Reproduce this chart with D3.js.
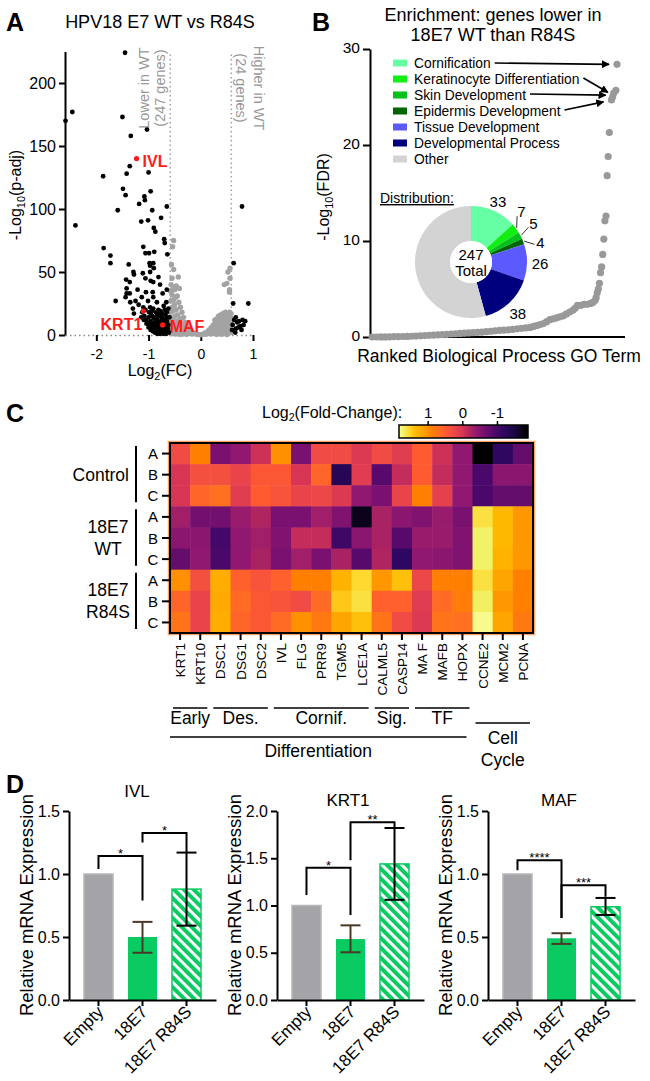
<!DOCTYPE html>
<html><head><meta charset="utf-8">
<script src="https://cdn.jsdelivr.net/npm/d3@7"></script>
<style>body{margin:0;background:#fff} svg text{font-family:"Liberation Sans",Arial,Helvetica,sans-serif}</style>
</head><body><svg id="fig" width="650" height="1081"></svg>
<script>
// ================= DATA =================
// Panel A: volcano (log2FC, -log10 p-adj)
const volcanoDown = [[-2.59,170],[-2.46,177],[-2.40,87],[-1.45,224],[-1.50,173],[-1.34,158],[-1.03,163],[-1.87,126],[-1.36,134],[-1.42,128],[-1.00,129],[-1.49,116],[-1.44,111],[-0.96,114],[-1.08,110],[-1.07,107],[-1.18,104],[-0.65,102],[-1.59,99],[-0.93,99],[-1.14,90],[-1.01,91],[-0.76,93],[-0.90,85],[-0.87,82],[-1.86,69],[-1.73,63],[-1.73,57],[-1.10,70],[-1.06,65],[-0.99,65],[-0.89,66],[-0.70,76],[-0.69,73],[-0.64,64],[-0.98,57],[-0.97,55],[-0.91,57],[-1.38,56],[-1.29,50],[-1.28,48],[-1.11,49],[-0.97,50],[-0.90,53],[-0.81,46],[-1.43,44],[-1.36,42],[-1.06,45],[-0.96,43],[-1.63,27],[-1.42,37],[-1.36,33],[-1.21,36],[-0.91,42],[-0.78,40],[-1.44,30],[-1.35,26],[-1.25,27],[-1.05,34],[-0.65,36],[-1.13,30],[-1.01,27],[-0.92,34],[-1.30,21],[-1.19,24],[-0.91,30],[-0.84,26],[-0.73,33],[-0.66,26],[-1.28,17],[-1.42,33],
[-1.12,18],[-1.08,15],[-1.05,12],[-1.02,10],[-1.0,14],[-0.98,8],[-0.96,11],[-0.95,16],[-0.93,6],[-0.92,9],[-0.9,13],[-0.89,4],[-0.88,7],[-0.87,10],[-0.86,18],[-0.85,5],[-0.84,8],[-0.83,12],[-0.82,3],[-0.81,6],[-0.8,9],[-0.79,15],[-0.78,4],[-0.77,7],[-0.76,11],[-0.75,2],[-0.74,5],[-0.73,13],[-0.72,3],[-0.71,6],[-0.7,9],[-0.69,20],[-0.68,2],[-0.67,4],[-0.66,7],[-0.65,11],[-0.64,3],[-0.63,5],[-0.62,8],[-0.61,2],[-0.6,14],[-1.1,22],[-1.06,20],[-0.97,22],[-0.94,19],[-0.91,21],[-0.84,17],[-0.81,20],[-0.77,19],[-0.74,17],[-0.71,23],[-0.68,16],[-0.65,18],[-0.62,21],[-1.04,9],[-1.0,6],[-0.96,4],[-0.92,3],[-0.88,2],[-0.83,1],[-0.78,1],[-0.72,1],[-0.66,1],[-1.09,12],[-1.14,14],[-0.99,18],[-0.93,15],[-0.87,14],[-0.82,16],[-0.75,14],[-0.7,12],[-0.64,14]];
const volcanoUp = [[0.79,102],[0.63,57],[0.91,25],[0.62,25],[0.67,14],[0.73,11],[0.82,8],[0.61,8],[0.67,5],[0.76,7],[0.85,11],[0.60,4],[0.78,4],[0.70,10],[0.64,12],[0.72,6],[0.80,12],[0.66,2]];
const volcanoNS = [[-0.52,75],[-0.54,70],[-0.56,56],[-0.52,52],[-0.55,45],[-0.43,46],[-0.57,40],[-0.47,39],[-0.41,37],[-0.53,38],[-0.5,36],[-0.58,35],[-0.55,32],[-0.45,31],[-0.48,30],[-0.52,28],[-0.57,27],[-0.42,26],[-0.5,24],[-0.55,22],[-0.39,22],[-0.47,20],[-0.53,19],[-0.58,18],[-0.36,18],[-0.44,16],[-0.49,15],[-0.54,14],[-0.33,14],[-0.59,12],[-0.38,13],[-0.41,12],[-0.46,11],[-0.51,11],[-0.56,10],[-0.30,10],[-0.35,9],[-0.43,8],[-0.48,8],[-0.53,7],[-0.58,6],[-0.27,8],[-0.32,7],[-0.39,6],[-0.44,5],[-0.49,5],[-0.54,4],[-0.59,3],[-0.24,6],[-0.29,5],[-0.36,4],[-0.41,3],[-0.46,2],[-0.51,2],[-0.56,1],[-0.21,4],[-0.26,3],[-0.33,2],[-0.38,1.5],[-0.43,1],[-0.48,0.8],[-0.18,3],[-0.23,2],[-0.3,1],[-0.35,0.8],[-0.4,0.5],[-0.15,2],[-0.2,1.2],[-0.27,0.6],[-0.12,1.2],[-0.17,0.7],[-0.09,0.8],[-0.06,0.5],[-0.03,0.3],[0.0,0.2],
[0.02,0.3],[0.05,0.8],[0.08,1.5],[0.1,0.5],[0.12,2.5],[0.14,1.2],[0.16,4],[0.18,2],[0.2,6],[0.2,0.8],[0.22,3.5],[0.24,8],[0.25,1.5],[0.26,5],[0.28,10],[0.29,2.5],[0.3,7],[0.31,13],[0.32,4],[0.33,1],[0.34,15],[0.35,9],[0.36,6],[0.37,2],[0.38,16],[0.39,12],[0.4,3.5],[0.41,8],[0.42,17],[0.43,14],[0.44,1.5],[0.45,11],[0.45,5],[0.46,16],[0.47,18],[0.48,9],[0.49,3],[0.5,13],[0.5,7],[0.51,17],[0.52,1],[0.53,15],[0.53,11],[0.54,5],[0.55,18],[0.56,8],[0.57,14],[0.58,2],[0.58,17],[0.59,10],[0.45,40],[0.5,41],[0.52,50],[0.55,34],[0.56,45],[0.56,53],[0.55,36],[0.3,0.5],[0.4,0.5],[0.5,0.4],[0.27,12],[0.33,9],[0.37,14],[0.44,9],[0.48,14],[0.52,8],[0.41,13],[0.35,11]];
const labeledGenes = ["IVL","KRT1","MAF"];
const labeledLfc = [-1.23,-1.10,-0.73];
const labeledP = [140,19,8];
const volcanoXTicks = [-2,-1,0,1];
const volcanoYTicks = [0,50,100,150,200];

// Panel B: ranked GO terms
const goRank = [1,5,9,13,17,21,25,29,33,37,41,45,49,53,57,61,65,69,73,77,81,85,89,93,97,101,105,109,113,117,121,125,129,133,137,141,145,148,151,154,157,160,163,166,169,172,175,178,181,184,186,188,191,194,197,200,202,204,205,206,207,208,209,210,211,212,213,214,215,216,217,219,220,221,223,224];
const goFDR = [0,0,0.01,0.01,0.02,0.03,0.04,0.05,0.06,0.08,0.1,0.12,0.15,0.17,0.2,0.22,0.25,0.28,0.31,0.34,0.37,0.4,0.42,0.45,0.48,0.5,0.55,0.6,0.65,0.7,0.72,0.75,0.8,0.85,0.9,0.95,1.0,1.1,1.2,1.3,1.4,1.6,1.8,1.9,2.0,2.1,2.2,2.4,2.6,2.8,3.0,3.3,3.3,3.4,3.4,3.5,3.6,3.8,4.1,4.6,5.0,5.6,6.7,7.3,8.6,10.2,12.1,12.6,16.8,18.8,21.3,24.7,25.0,25.4,25.7,28.4];
const goCategories = ["Cornification","Keratinocyte Differentiation","Skin Development","Epidermis Development","Tissue Development","Developmental Process","Other"];
const goCounts = [33,7,5,4,26,38,134];
const goArrowTargets = [224,223,221,219];
const goTicks = [0,10,20,30];

// Panel C: heatmap
const genes = ["KRT1","KRT10","DSC1","DSG1","DSC2","IVL","FLG","PRR9","TGM5","LCE1A","CALML5","CASP14","MA F","MAFB","HOPX","CCNE2","MCM2","PCNA"];
const sampleGroups = ["Control","18E7 WT","18E7 R84S"];
const replicates = ["A","B","C"];
const heatValues = [
 [0.3,0.9,-0.6,-0.4,-0.05,1.0,-0.6,0.3,0.3,0.05,0.3,0.1,0.5,-0.05,-0.4,-1.85,-1.2,-0.75],
 [0.0,0.35,0.35,0.2,0.45,0.45,0.0,0.6,-1.3,0.1,-0.85,-0.1,0.5,-0.1,-0.4,-0.95,-0.45,-0.45],
 [0.0,0.6,0.7,0.1,0.5,0.4,0.2,0.25,0.05,-0.4,-0.6,0.2,0.9,0.15,-0.4,-0.95,-0.75,-0.75],
 [-0.3,-0.65,-0.65,-0.35,-0.2,-0.6,-0.6,-0.3,-0.55,-1.7,-0.25,-0.45,-0.55,-0.35,-0.6,1.6,1.35,1.05],
 [-0.45,-0.45,-1.0,-0.4,-0.3,-0.55,-0.1,-0.1,-1.05,-0.45,-0.25,-0.85,-0.35,-0.35,-0.55,1.72,1.35,1.05],
 [-0.75,-0.4,-0.95,-0.4,-0.25,-0.6,-0.3,-0.6,-0.25,-0.85,-0.2,-1.2,-0.4,-0.45,-0.55,1.72,1.3,1.05],
 [1.0,0.35,1.25,0.55,0.4,0.55,0.9,0.9,1.3,1.55,1.05,1.4,0.25,0.9,0.9,1.6,1.15,0.9],
 [0.6,0.2,1.2,0.65,0.45,0.4,0.3,0.65,1.45,1.6,0.55,0.55,0.1,0.65,0.85,1.7,1.05,0.9],
 [0.75,0.2,1.25,0.6,0.45,0.65,1.0,0.8,1.15,1.4,0.75,0.3,0.05,0.75,0.7,1.8,1.15,0.8]
];
const geneGroupNames = ["Early","Des.","Cornif.","Sig.","TF"];
const geneGroupFirst = ["KRT1","DSC1","IVL","CALML5","MA F"];
const geneGroupLast = ["KRT10","DSC2","LCE1A","CASP14","HOPX"];
const colorbarTicks = [1,0,-1];

// Panel D: qPCR
const qpcrCats = ["Empty","18E7","18E7 R84S"];
const ivlMean = [1.0,0.50,0.88], ivlLow = [null,0.375,0.59], ivlHigh = [null,0.62,1.17];
const krt1Mean = [1.0,0.645,1.44], krt1Low = [null,0.505,1.06], krt1High = [null,0.79,1.82];
const mafMean = [1.0,0.49,0.74], mafLow = [null,0.445,0.675], mafHigh = [null,0.53,0.81];
const ivlSig = [["Empty","18E7",1.143,1.04,0.79,"*"],["18E7","18E7 R84S",1.325,1.25,1.17,"*"]];
const krt1Sig = [["Empty","18E7",1.40,1.11,0.90,"*"],["18E7","18E7 R84S",1.88,1.48,1.82,"**"]];
const mafSig = [["Empty","18E7",1.11,1.03,0.65,"****"],["18E7","18E7 R84S",0.91,0.65,0.82,"***"]];

// ================= DRAWING =================
const FONT = '"Liberation Sans",Arial,Helvetica,sans-serif';
const svg = d3.select("#fig");
const defs = svg.append("defs");

function txt(sel, x, y, s, o = {}) {
  const t = sel.append("text").attr("x", x).attr("y", y).text(s)
    .attr("font-size", o.size || 14).attr("fill", o.fill || "#000")
    .attr("text-anchor", o.anchor || "start");
  if (o.weight) t.attr("font-weight", o.weight);
  if (o.rotate !== undefined) t.attr("transform", `rotate(${o.rotate},${x},${y})`);
  return t;
}
function subText(sel, x, y, parts, o = {}) {
  const sz = o.size || 15;
  const t = sel.append("text").attr("x", x).attr("y", y)
    .attr("font-size", sz).attr("text-anchor", o.anchor || "middle").attr("fill", "#000");
  if (o.rotate !== undefined) t.attr("transform", `rotate(${o.rotate},${x},${y})`);
  t.append("tspan").text(parts[0]);
  t.append("tspan").text(parts[1]).attr("font-size", sz * 0.68).attr("dy", sz * 0.27);
  t.append("tspan").text(parts[2]).attr("dy", -sz * 0.27);
  return t;
}
function styleAxis(g, size) {
  g.attr("font-family", FONT).attr("font-size", size);
  g.selectAll("path.domain, .tick line").attr("stroke", "#000").attr("stroke-width", 2);
  g.selectAll("text").attr("fill", "#000");
}

// panel letters
txt(svg, 6, 31, "A", {size: 25, weight: "bold"});
txt(svg, 312, 31, "B", {size: 25, weight: "bold"});
txt(svg, 6, 422, "C", {size: 25, weight: "bold"});
txt(svg, 6, 793, "D", {size: 25, weight: "bold"});

// ---------- Panel A ----------
(function () {
  const g = svg.append("g");
  const x = d3.scaleLinear().domain([-2.6, 1.0]).range([65, 253]);
  const y = d3.scaleLinear().domain([0, 225]).range([335, 51.5]);
  txt(g, 160, 28, "HPV18 E7 WT vs R84S", {size: 18, anchor: "middle"});
  [-0.585, 0.585].forEach(v => g.append("line")
    .attr("x1", x(v)).attr("x2", x(v)).attr("y1", y(0)).attr("y2", y(225))
    .attr("stroke", "#a0a0a0").attr("stroke-width", 1.5).attr("stroke-dasharray", "1.5,3"));
  const gc = "#999";
  txt(g, 149, 88, "Lower in WT", {size: 14.5, fill: gc, anchor: "middle", rotate: -90});
  txt(g, 165, 88, "(247 genes)", {size: 14.5, fill: gc, anchor: "middle", rotate: -90});
  txt(g, 254, 88, "Higher in WT", {size: 14.5, fill: gc, anchor: "middle", rotate: 90});
  txt(g, 236, 88, "(24 genes)", {size: 14.5, fill: gc, anchor: "middle", rotate: 90});

  const ya = g.append("g").attr("transform", "translate(65,0)")
    .call(d3.axisLeft(y).tickValues(volcanoYTicks).tickSize(6).tickSizeOuter(0).tickFormat(d => String(d)));
  styleAxis(ya, 16);
  const xa = g.append("g").attr("transform", `translate(0,${y(0)})`)
    .call(d3.axisBottom(x).tickValues(volcanoXTicks).tickSize(6).tickSizeOuter(0).tickFormat(d => String(d)));
  styleAxis(xa, 14);
  xa.select("path.domain").attr("stroke", "#888").attr("stroke-width", 1.5).attr("stroke-dasharray", "1.5,3");
  xa.selectAll(".tick text").attr("dy", "1.1em");

  g.selectAll("circle.ns").data(volcanoNS).join("circle").attr("class", "ns")
    .attr("cx", d => x(d[0])).attr("cy", d => y(d[1])).attr("r", 2.7).attr("fill", "#a3a3a3");
  g.selectAll("circle.sig").data(volcanoDown.concat(volcanoUp)).join("circle").attr("class", "sig")
    .attr("cx", d => x(d[0])).attr("cy", d => y(d[1])).attr("r", 2.4).attr("fill", "#000");
  labeledGenes.forEach((gene, i) => {
    const cx = x(labeledLfc[i]), cy = y(labeledP[i]);
    g.append("circle").attr("cx", cx).attr("cy", cy).attr("r", 2.6).attr("fill", "#ff1a1a");
    if (gene === "IVL") txt(g, cx + 6, cy + 8, gene, {size: 16, weight: "bold", fill: "#ff1a1a"});
    if (gene === "KRT1") txt(g, cx - 1, cy + 19, gene, {size: 16, weight: "bold", fill: "#ff1a1a", anchor: "end"});
    if (gene === "MAF") txt(g, cx + 7, cy + 7, gene, {size: 16, weight: "bold", fill: "#ff1a1a"});
  });
  subText(g, 21, 195, ["-Log", "10", "(p-adj)"], {size: 16, rotate: -90});
  subText(g, 160, 376, ["Log", "2", "(FC)"], {size: 16});
})();

// ---------- Panel B ----------
(function () {
  const g = svg.append("g");
  const x = d3.scaleLinear().domain([1, 224]).range([372, 617]);
  const y = d3.scaleLinear().domain([0, 30]).range([337, 49]);
  txt(g, 493, 21, "Enrichment: genes lower in", {size: 18, anchor: "middle"});
  txt(g, 493, 41, "18E7 WT than R84S", {size: 18, anchor: "middle"});
  const ya = g.append("g").attr("transform", "translate(370,0)")
    .call(d3.axisLeft(y).tickValues(goTicks).tickSize(7).tickSizeOuter(0));
  styleAxis(ya, 15.5);
  ya.selectAll(".tick text").attr("dy", "0.25em");
  g.append("line").attr("x1", 369).attr("x2", 625).attr("y1", y(0)).attr("y2", y(0))
    .attr("stroke", "#000").attr("stroke-width", 2);
  subText(g, 329, 197, ["-Log", "10", "(FDR)"], {size: 16, rotate: -90});
  txt(g, 499, 362, "Ranked Biological Process GO Term", {size: 17.5, anchor: "middle"});

  g.selectAll("circle.go").data(goRank).join("circle").attr("class", "go")
    .attr("cx", d => x(d)).attr("cy", (d, i) => y(goFDR[i])).attr("r", 3.6).attr("fill", "#999");

  const colors = ["#66ffa3", "#11ee11", "#00c21a", "#006400", "#5a5aff", "#00007f", "#d3d3d3"];
  const legY = d3.scalePoint().domain(goCategories).range([63, 159]);
  defs.append("marker").attr("id", "arr").attr("viewBox", "0 0 10 10").attr("refX", 9).attr("refY", 5)
    .attr("markerWidth", 5).attr("markerHeight", 5).attr("orient", "auto")
    .append("path").attr("d", "M0,0L10,5L0,10z").attr("fill", "#000");
  goCategories.forEach((c, i) => {
    g.append("rect").attr("x", 393).attr("y", legY(c) - 3.5).attr("width", 14).attr("height", 7).attr("fill", colors[i]);
    const t = txt(g, 414, legY(c) + 5, c, {size: 13.8});
    if (i < 4) {
      const L = t.node().getComputedTextLength();
      const tr = goArrowTargets[i];
      const ti = goRank.indexOf(tr);
      g.append("line").attr("x1", 414 + L + 4).attr("y1", legY(c) + (i === 0 ? 0 : -1))
        .attr("x2", x(tr) - 8).attr("y2", y(goFDR[ti]) + (i === 0 ? 0 : 2))
        .attr("stroke", "#000").attr("stroke-width", 1.6).attr("marker-end", "url(#arr)");
    }
  });

  const cx = 471, cy = 262;
  const pg = g.append("g").attr("transform", `translate(${cx},${cy})`);
  const arcs = d3.pie().sort(null).value(d => d)(goCounts);
  const arc = d3.arc().innerRadius(21).outerRadius(56);
  pg.selectAll("path").data(arcs).join("path").attr("d", arc).attr("fill", (d, i) => colors[i]);
  pg.append("circle").attr("r", 21).attr("fill", "#fff");
  txt(pg, 0, -2, "247", {size: 15, anchor: "middle"});
  txt(pg, 0, 14, "Total", {size: 15, anchor: "middle"});
  const adj = [0, -8, -3, 6, 1, 1], rad = [66, 71, 73, 72, 69, 70];
  arcs.forEach((a, i) => {
    if (i > 5) return;
    const mid = (a.startAngle + a.endAngle) / 2, la = mid + adj[i] * Math.PI / 180;
    const lx = rad[i] * Math.sin(la), ly = -rad[i] * Math.cos(la);
    txt(pg, lx, ly + 5, String(goCounts[i]), {size: 15, anchor: "middle"});
    if (i >= 1 && i <= 3) {
      pg.append("line").attr("x1", 57 * Math.sin(mid)).attr("y1", -57 * Math.cos(mid))
        .attr("x2", (rad[i] - 6) * Math.sin(la)).attr("y2", -(rad[i] - 6) * Math.cos(la))
        .attr("stroke", "#000").attr("stroke-width", 0.8);
    }
  });
  txt(g, 380, 203, "Distribution:", {size: 14}).attr("text-decoration", "underline");
})();

// ---------- Panel C ----------
(function () {
  const g = svg.append("g");
  const x = d3.scaleBand().domain(genes).range([170, 533]);
  const rows = [];
  sampleGroups.forEach(s => replicates.forEach(r => rows.push(s + "|" + r)));
  const y = d3.scaleBand().domain(rows).range([443, 633]);
  const stops = [-1.85,-1.5,-1.2,-0.95,-0.6,-0.4,-0.2,0.0,0.3,0.5,0.7,0.9,1.1,1.35,1.55,1.7,1.85];
  const cols = ["#000000","#1a0840","#2e0760","#4a086a","#7a1070","#901870","#b02560","#d83555","#f04c45","#ff5a30","#ff7020","#ff8000","#ffa000","#ffb800","#ffd830","#f0f060","#fcffa4"];
  const color = d3.scaleLinear().domain(stops).range(cols).clamp(true);

  const cells = [];
  heatValues.forEach((row, ri) => row.forEach((v, ci) => cells.push({r: rows[ri], c: genes[ci], v})));
  g.append("rect").attr("x", 168.5).attr("y", 441.5).attr("width", 366).attr("height", 193)
    .attr("fill", "none").attr("stroke", "#f6a36a").attr("stroke-width", 1.5);
  g.selectAll("rect.cell").data(cells).join("rect").attr("class", "cell")
    .attr("x", d => x(d.c)).attr("y", d => y(d.r)).attr("width", x.bandwidth() + 0.5).attr("height", y.bandwidth() + 0.5)
    .attr("fill", d => color(d.v));
  g.append("rect").attr("x", 170).attr("y", 443).attr("width", 363).attr("height", 190)
    .attr("fill", "none").attr("stroke", "#000").attr("stroke-width", 2);

  rows.forEach(r => {
    const cy = y(r) + y.bandwidth() / 2;
    g.append("line").attr("x1", 162).attr("x2", 170).attr("y1", cy).attr("y2", cy).attr("stroke", "#000").attr("stroke-width", 2);
    txt(g, 153, cy + 5.5, r.split("|")[1], {size: 15, anchor: "middle"});
  });
  sampleGroups.forEach((s, i) => {
    const y0 = y(s + "|A"), y1 = y(s + "|C") + y.bandwidth();
    g.append("line").attr("x1", 136).attr("x2", 136).attr("y1", y0 + 3).attr("y2", y1 - 4)
      .attr("stroke", "#000").attr("stroke-width", 2);
    const mid = (y0 + y1) / 2;
    if (i === 0) txt(g, 129, mid + 6, "Control", {size: 17.5, anchor: "end"});
    else {
      const parts = s.split(" ");
      txt(g, 108, mid - 5, parts[0], {size: 17.5, anchor: "middle"});
      txt(g, 108, mid + 17, parts[1], {size: 17.5, anchor: "middle"});
    }
  });
  genes.forEach(gn => {
    const cx = x(gn) + x.bandwidth() / 2;
    g.append("line").attr("x1", cx).attr("x2", cx).attr("y1", 633).attr("y2", 640).attr("stroke", "#000").attr("stroke-width", 2);
    txt(g, cx + 5, 643, gn, {size: 13.5, anchor: "end", rotate: -90});
  });
  geneGroupNames.forEach((n, i) => {
    const x0 = x(geneGroupFirst[i]) + 3, x1 = x(geneGroupLast[i]) + x.bandwidth() - 3;
    g.append("line").attr("x1", x0).attr("x2", x1).attr("y1", 708).attr("y2", 708).attr("stroke", "#000").attr("stroke-width", 1.5);
    txt(g, (x0 + x1) / 2, 724, n, {size: 17.5, anchor: "middle"});
  });
  const dx0 = x("KRT1"), dx1 = x("HOPX") + x.bandwidth() - 6;
  g.append("line").attr("x1", dx0).attr("x2", dx1).attr("y1", 737).attr("y2", 737).attr("stroke", "#000").attr("stroke-width", 1.5);
  txt(g, (dx0 + dx1) / 2, 757, "Differentiation", {size: 17.5, anchor: "middle"});
  const cc0 = x("CCNE2") + 3, cc1 = x("PCNA") + x.bandwidth() - 3;
  g.append("line").attr("x1", cc0).attr("x2", cc1).attr("y1", 723).attr("y2", 723).attr("stroke", "#000").attr("stroke-width", 1.5);
  txt(g, (cc0 + cc1) / 2, 744, "Cell", {size: 17.5, anchor: "middle"});
  txt(g, (cc0 + cc1) / 2, 766, "Cycle", {size: 17.5, anchor: "middle"});

  const cb = d3.scaleLinear().domain([1.84, -1.88]).range([399, 528]);
  const grad = defs.append("linearGradient").attr("id", "cbgrad").attr("x1", "0%").attr("x2", "100%");
  d3.range(0, 41).forEach(k => {
    const v = 1.84 + (-1.88 - 1.84) * k / 40;
    grad.append("stop").attr("offset", (k / 40 * 100) + "%").attr("stop-color", color(v));
  });
  g.append("rect").attr("x", 399).attr("y", 425).attr("width", 129).attr("height", 13)
    .attr("fill", "url(#cbgrad)").attr("stroke", "#000").attr("stroke-width", 1.5);
  colorbarTicks.forEach(t => {
    g.append("line").attr("x1", cb(t)).attr("x2", cb(t)).attr("y1", 425).attr("y2", 421).attr("stroke", "#000").attr("stroke-width", 1.5);
    txt(g, cb(t), 418, String(t), {size: 15, anchor: "middle"});
  });
  const lt = g.append("text").attr("x", 262).attr("y", 418).attr("font-size", 16);
  lt.append("tspan").text("Log");
  lt.append("tspan").text("2").attr("font-size", 10.5).attr("dy", 3);
  lt.append("tspan").text("(Fold-Change):").attr("dy", -3);
})();

// ---------- Panel D ----------
defs.append("pattern").attr("id", "hatch").attr("patternUnits", "userSpaceOnUse")
  .attr("width", 7).attr("height", 7).attr("patternTransform", "rotate(-45)")
  .call(p => {
    p.append("rect").attr("width", 7).attr("height", 7).attr("fill", "#0acb62");
    p.append("rect").attr("width", 3).attr("height", 7).attr("fill", "#fff");
  });
function barPanel(o) {
  const g = svg.append("g");
  const x = d3.scaleBand().domain(qpcrCats).range([o.x0, o.x0 + 147]).padding(0.34);
  const y = d3.scaleLinear().domain([0, o.ymax]).range([1000, 811]);
  const fills = ["#a3a3a8", "#0acb62", "url(#hatch)"];
  g.selectAll("rect.bar").data(qpcrCats).join("rect").attr("class", "bar")
    .attr("x", d => x(d)).attr("width", x.bandwidth())
    .attr("y", (d, i) => y(o.mean[i])).attr("height", (d, i) => y(0) - y(o.mean[i]))
    .attr("fill", (d, i) => fills[i])
    .attr("stroke", (d, i) => i === 2 ? "#0acb62" : (i === 0 ? "#b8b8bc" : "none")).attr("stroke-width", 1.5);
  qpcrCats.forEach((c, i) => {
    if (o.low[i] === null) return;
    const cx = x(c) + x.bandwidth() / 2, col = i === 1 ? "#4a3828" : "#000";
    g.append("line").attr("x1", cx).attr("x2", cx).attr("y1", y(o.low[i])).attr("y2", y(o.high[i])).attr("stroke", col).attr("stroke-width", 2);
    [o.low[i], o.high[i]].forEach(v => g.append("line").attr("x1", cx - 10).attr("x2", cx + 10)
      .attr("y1", y(v)).attr("y2", y(v)).attr("stroke", col).attr("stroke-width", 2));
  });
  o.sig.forEach(s => {
    const xa = x(s[0]) + x.bandwidth() / 2, xb = x(s[1]) + x.bandwidth() / 2;
    g.append("path").attr("d", `M${xa},${y(s[3])}V${y(s[2])}H${xb}V${y(s[4])}`)
      .attr("fill", "none").attr("stroke", "#000").attr("stroke-width", 2);
    txt(g, (xa + xb) / 2, y(s[2]) + 2, s[5], {size: 13, anchor: "middle"});
  });
  const ya = g.append("g").attr("transform", `translate(${o.x0},0)`)
    .call(d3.axisLeft(y).tickValues(o.ticks).tickFormat(d3.format(".1f")).tickSize(6).tickSizeOuter(0));
  styleAxis(ya, 16);
  const xa = g.append("g").attr("transform", "translate(0,1000)")
    .call(d3.axisBottom(x).tickSize(6).tickSizeOuter(0).tickFormat(""));
  styleAxis(xa, 16);
  qpcrCats.forEach(c => {
    const cx = x(c) + x.bandwidth() / 2;
    txt(g, cx + 6, 1013, c, {size: 17, anchor: "end", rotate: -45});
  });
  txt(g, o.titleX, o.titleY, o.title, {size: 17, anchor: "middle"});
  txt(g, o.x0 - 36, 905, "Relative mRNA Expression", {size: 18.5, anchor: "middle", rotate: -90});
}
barPanel({x0: 69, ymax: 1.5, ticks: [0, 0.5, 1.0, 1.5], mean: ivlMean, low: ivlLow, high: ivlHigh, sig: ivlSig, title: "IVL", titleX: 137, titleY: 797});
barPanel({x0: 277, ymax: 2.0, ticks: [0, 0.5, 1.0, 1.5, 2.0], mean: krt1Mean, low: krt1Low, high: krt1High, sig: krt1Sig, title: "KRT1", titleX: 348, titleY: 806});
barPanel({x0: 488, ymax: 1.5, ticks: [0, 0.5, 1.0, 1.5], mean: mafMean, low: mafLow, high: mafHigh, sig: mafSig, title: "MAF", titleX: 559, titleY: 806});
</script></body></html>
